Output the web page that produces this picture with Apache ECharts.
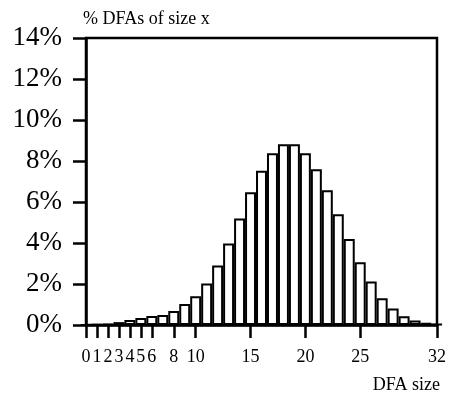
<!DOCTYPE html>
<html>
<head>
<meta charset="utf-8">
<script src="https://cdn.jsdelivr.net/npm/echarts@6/dist/echarts.min.js"></script>
<style>
  html, body { margin: 0; padding: 0; background: #fff; }
  #chart { width: 451px; height: 396px; }
</style>
</head>
<body>
<div id="chart"></div>
<script>
// DFA sizes 0..32 and the share of DFAs (in %) having each size
const sizes = [0, 1, 2, 3, 4, 5, 6, 7, 8, 9, 10, 11, 12, 13, 14, 15, 16,
               17, 18, 19, 20, 21, 22, 23, 24, 25, 26, 27, 28, 29, 30, 31, 32];
const shares = [0, 0.02, 0.05, 0.14, 0.25, 0.34, 0.44, 0.49, 0.68, 1.02, 1.40,
                2.03, 2.90, 3.97, 5.20, 6.47, 7.52, 8.38, 8.82, 8.82, 8.38,
                7.60, 6.57, 5.40, 4.20, 3.06, 2.12, 1.30, 0.80, 0.43, 0.22,
                0.11, 0.04];
// labelled sizes on the horizontal axis
const xTicks = [0, 1, 2, 3, 4, 5, 6, 8, 10, 15, 20, 25, 32];
const yTicks = [0, 2, 4, 6, 8, 10, 12, 14];

const serif = '"Liberation Serif", "DejaVu Serif", serif';
const chart = echarts.init(document.getElementById('chart'), null, { renderer: 'canvas' });

chart.setOption({
  animation: false,
  backgroundColor: '#fff',
  grid: {
    left: 86, right: 14, top: 38, bottom: 71,
    show: true, borderColor: '#000', borderWidth: 2.5,
    backgroundColor: 'transparent'
  },
  xAxis: {
    type: 'value',
    min: 0, max: 32,
    name: 'DFA size',
    nameLocation: 'end',
    nameGap: 3,
    nameTextStyle: {
      fontFamily: serif, fontSize: 18, color: '#000',
      align: 'right', verticalAlign: 'top', padding: [51, 0, 0, 0]
    },
    axisLine: { show: true, lineStyle: { color: '#000', width: 2.5 } },
    axisTick: { show: true, length: 13, lineStyle: { color: '#000', width: 2.5 }, customValues: xTicks },
    axisLabel: {
      customValues: xTicks,
      margin: 23,
      fontFamily: serif, fontSize: 18, color: '#000'
    },
    splitLine: { show: false }
  },
  yAxis: {
    type: 'value',
    min: 0, max: 14, interval: 2,
    name: '% DFAs of size x',
    nameLocation: 'end',
    nameGap: 19,
    nameTextStyle: {
      fontFamily: serif, fontSize: 18, color: '#000',
      align: 'left', verticalAlign: 'middle', padding: [0, 0, 0, -3]
    },
    axisLine: { show: true, lineStyle: { color: '#000', width: 2.5 } },
    axisTick: { show: true, length: 13, lineStyle: { color: '#000', width: 2.5 }, customValues: yTicks },
    axisLabel: {
      customValues: yTicks,
      margin: 24,
      formatter: v => v + '%',
      fontFamily: serif, fontSize: 27, color: '#000'
    },
    splitLine: { show: false }
  },
  series: [{
    type: 'bar',
    data: sizes.map((s, i) => [s, shares[i]]),
    barWidth: '100%',
    clip: true,
    itemStyle: { color: '#fff', borderColor: '#000', borderWidth: 2 },
    z: 1
  }]
});
</script>
</body>
</html>
